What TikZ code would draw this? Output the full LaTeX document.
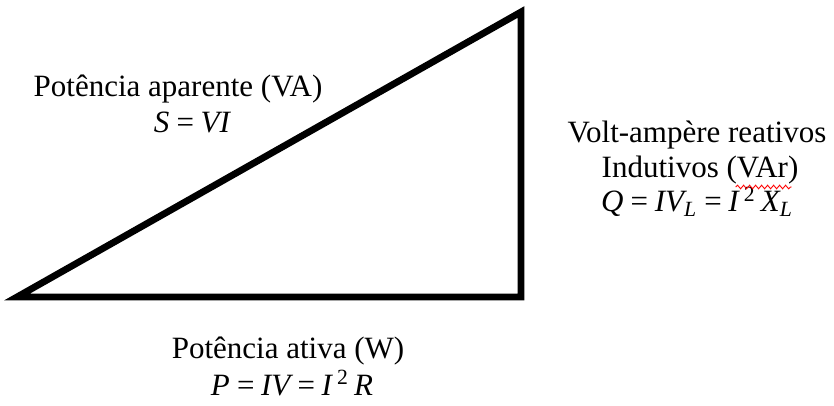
\documentclass[tikz,border=0pt]{standalone}
\usepackage{fontspec}
\setmainfont{Liberation Serif}
\usetikzlibrary{calc,positioning,decorations.pathmorphing}

\begin{document}
\begin{tikzpicture}[x=0.5pt, y=-0.5pt,
    every node/.style={font=\fontsize{15.5}{18}\selectfont, inner sep=0pt, anchor=base},
    side/.style={line width=3.4pt, line join=miter},
    eq/.style={font=\fontsize{15.5}{18}\selectfont\itshape}
  ]
  \useasboundingbox (0,0) rectangle (834,406);
  % vertices of the power triangle
  \coordinate (o) at (17,297);
  \coordinate (p) at (521,297);
  \coordinate (q) at (521,12);
  \draw[side] (o) -- (p) -- (q) -- cycle;

  % apparent power
  \node (aparente) at (178,97) {Potência aparente (VA)};
  \node[eq] (seq) at (192,133) {S\,=\,VI};

  % reactive power
  \node (reativos) at (697,143) {Volt-ampère reativos};
  \node (indutivos) at (700,178) {Indutivos (VAr)};
  \node[eq] (qeq) at (697,212) {Q\,=\,IV\textsubscript{L}\,=\,I\,\textsuperscript{\upshape 2}\,X\textsubscript{L}};
  \draw[red, line width=0.45pt, decorate,
        decoration={snake, amplitude=0.9pt, segment length=3pt}]
    ($(indutivos.base east)+(-63,9)$) -- ($(indutivos.base east)+(-7,9)$);

  % active power
  \node (ativa) at (288,358) {Potência ativa (W)};
  \node[eq] (peq) at (292,395) {P\,=\,IV\,=\,I\,\textsuperscript{\upshape 2}\,R};
\end{tikzpicture}
\end{document}
